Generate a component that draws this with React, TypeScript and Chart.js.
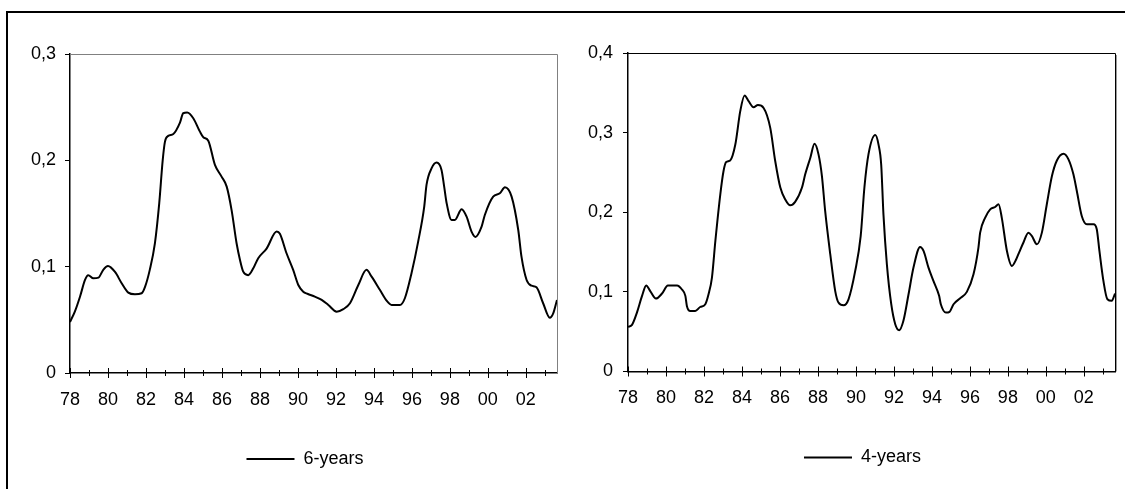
import React, { useEffect, useRef } from 'react';
import { Chart, registerables } from 'chart.js';

Chart.register(...registerables);

// ---- Data (year since 1900, value) ----
const sixYearsX = [
  78.0, 78.26, 78.53, 78.79, 78.96, 79.23, 79.5, 79.75, 80.0, 80.37, 80.72, 81.07, 81.42, 81.77, 81.95,
  82.2, 82.47, 82.7, 82.88, 83.0, 83.17, 83.44, 83.79, 83.96, 84.17, 84.49, 84.84, 85.02, 85.28, 85.63,
  85.98, 86.25, 86.51, 86.77, 86.95, 87.12, 87.38, 87.65, 87.91, 88.35, 88.88, 89.05, 89.4, 89.75, 90.02,
  90.28, 90.5, 90.89, 91.25, 91.6, 92.04, 92.39, 92.74, 93.18, 93.61, 93.88, 94.32, 94.67, 94.93, 95.37,
  95.63, 95.98, 96.33, 96.65, 96.77, 97.04, 97.3, 97.56, 97.7, 97.83, 98.09, 98.26, 98.62, 98.88, 99.14,
  99.35, 99.67, 99.84, 100.28, 100.63, 100.9, 101.25, 101.6, 101.77, 102.04, 102.3, 102.56, 102.91, 103.26,
  103.44, 103.64,
];
const sixYearsY = [
  0.048, 0.058, 0.072, 0.0875, 0.092, 0.089, 0.0897, 0.097, 0.1006, 0.095, 0.0844, 0.0756, 0.074, 0.075, 0.081,
  0.097, 0.122, 0.16, 0.2, 0.2176, 0.223, 0.2248, 0.2355, 0.2443, 0.2449, 0.2396, 0.227, 0.2217, 0.2185, 0.1957,
  0.1847, 0.1753, 0.153, 0.122, 0.1063, 0.0953, 0.092, 0.0985, 0.108, 0.117, 0.133, 0.131, 0.1126, 0.097, 0.0828,
  0.0765, 0.0745, 0.0718, 0.0687, 0.064, 0.0577, 0.06, 0.0656, 0.0828, 0.097, 0.0906, 0.078, 0.068, 0.064, 0.064,
  0.0703, 0.0938, 0.1235, 0.1565, 0.1769, 0.1926, 0.1979, 0.191, 0.1753, 0.1597, 0.144, 0.144, 0.154, 0.147, 0.133,
  0.128, 0.1376, 0.1486, 0.1659, 0.169, 0.1747, 0.1659, 0.1345, 0.1094, 0.0875, 0.0821, 0.0806, 0.0656, 0.052,
  0.0561, 0.0687,
];

const fourYearsX = [
  78.0, 78.21, 78.47, 78.74, 78.96, 79.17, 79.47, 79.79, 80.1, 80.58, 80.84, 81.02, 81.1, 81.28, 81.54,
  81.8, 82.07, 82.24, 82.42, 82.6, 82.86, 83.03, 83.17, 83.38, 83.65, 83.91, 84.14, 84.35, 84.61, 84.84,
  85.14, 85.49, 85.75, 86.02, 86.28, 86.54, 86.8, 87.16, 87.33, 87.6, 87.82, 88.03, 88.21, 88.38, 88.65,
  88.91, 89.08, 89.35, 89.61, 89.96, 90.25, 90.45, 90.66, 91.02, 91.19, 91.33, 91.45, 91.63, 91.86, 92.07,
  92.28, 92.5, 92.77, 93.03, 93.38, 93.56, 93.82, 94.08, 94.38, 94.47, 94.74, 94.93, 95.14, 95.49, 95.84,
  96.19, 96.45, 96.54, 96.8, 97.07, 97.33, 97.51, 97.68, 97.95, 98.21, 98.44, 98.61, 98.82, 99.08, 99.26,
  99.53, 99.79, 100.05, 100.32, 100.58, 100.93, 101.19, 101.45, 101.63, 101.89, 102.16, 102.51, 102.68, 102.82,
  103.03, 103.24, 103.47, 103.64,
];
const fourYearsY = [
  0.056, 0.0586, 0.074, 0.095, 0.108, 0.101, 0.0916, 0.0979, 0.108, 0.108, 0.103, 0.095, 0.0824, 0.076, 0.076,
  0.081, 0.0845, 0.097, 0.118, 0.164, 0.2225, 0.2518, 0.263, 0.265, 0.285, 0.327, 0.3467, 0.3396, 0.332, 0.3346,
  0.331, 0.306, 0.2644, 0.231, 0.216, 0.2087, 0.213, 0.231, 0.2476, 0.2685, 0.286, 0.2727, 0.2455, 0.2016, 0.147,
  0.101, 0.0866, 0.0832, 0.0907, 0.126, 0.17, 0.232, 0.2727, 0.297, 0.285, 0.26, 0.197, 0.1346, 0.0845, 0.0594,
  0.0518, 0.0636, 0.097, 0.1305, 0.1565, 0.1514, 0.1305, 0.1138, 0.095, 0.0845, 0.074, 0.0749, 0.0845, 0.092, 0.1,
  0.122, 0.1556, 0.1744, 0.193, 0.2036, 0.2066, 0.21, 0.193, 0.1514, 0.1326, 0.141, 0.1506, 0.162, 0.1744, 0.1703,
  0.1597, 0.1744, 0.21, 0.2455, 0.265, 0.2735, 0.2664, 0.2476, 0.2267, 0.1954, 0.1849, 0.1849, 0.1786, 0.1514,
  0.1138, 0.0907, 0.0887, 0.0979,
];

// ---- Axis ticks / labels ----
const xMajorTicks = [78, 80, 82, 84, 86, 88, 90, 92, 94, 96, 98, 100, 102];
const xMajorLabels = ['78', '80', '82', '84', '86', '88', '90', '92', '94', '96', '98', '00', '02'];
const xMinorTicks = [79, 81, 83, 85, 87, 89, 91, 93, 95, 97, 99, 101, 103];
const xRange = [78, 103.64];

const yTicksLeft = [0, 0.1, 0.2, 0.3];
const yLabelsLeft = ['0', '0,1', '0,2', '0,3'];
const yTicksRight = [0, 0.1, 0.2, 0.3, 0.4];
const yLabelsRight = ['0', '0,1', '0,2', '0,3', '0,4'];

const seriesLabels = ['6-years', '4-years'];

const FONT_FAMILY = '"Liberation Sans", Arial, Helvetica, sans-serif';
const FONT_SIZE = 18;

type PanelProps = {
  left: number;
  top: number;
  width: number;
  height: number;
  xs: number[];
  ys: number[];
  label: string;
  yTicks: number[];
  yLabels: string[];
  yWidth: number;
  yPad: number;
  pad: { top: number; right: number; bottom: number };
  legendDx: number;
  frameColor: string;
  shadow: boolean;
};

function Panel(p: PanelProps) {
  const ref = useRef<HTMLCanvasElement | null>(null);

  useEffect(() => {
    const canvas = ref.current;
    if (!canvas) return;

    const tickMarks = {
      id: 'xTickMarks',
      afterDraw(chart: any) {
        const xs = chart.scales.x;
        const ctx = chart.ctx;
        const y0 = chart.chartArea.bottom;
        ctx.save();
        ctx.strokeStyle = '#000';
        ctx.lineWidth = 1;
        xs.ticks.forEach((t: any) => {
          const px = Math.round(xs.getPixelForValue(t.value)) + 0.5;
          const major = xMajorTicks.indexOf(t.value) >= 0;
          ctx.beginPath();
          ctx.moveTo(px, y0 - (major ? 5 : 3));
          ctx.lineTo(px, y0 + (major ? 5 : 3));
          ctx.stroke();
        });
        ctx.restore();
      },
    };

    const frame = {
      id: 'plotFrame',
      afterDatasetsDraw(chart: any) {
        const { left, top, right, bottom } = chart.chartArea;
        const ctx = chart.ctx;
        ctx.save();
        ctx.strokeStyle = p.frameColor;
        ctx.lineWidth = 1;
        ctx.beginPath();
        ctx.moveTo(left, Math.round(top) + 0.5);
        ctx.lineTo(Math.round(right) + 0.5, Math.round(top) + 0.5);
        ctx.lineTo(Math.round(right) + 0.5, bottom);
        ctx.stroke();
        if (p.shadow) {
          ctx.strokeStyle = '#9a9a9a';
          ctx.beginPath();
          ctx.moveTo(Math.round(right) + 1.5, Math.round(top) + 2);
          ctx.lineTo(Math.round(right) + 1.5, bottom);
          ctx.stroke();
        }
        ctx.restore();
      },
    };

    const legendShift = {
      id: 'legendShift',
      afterLayout(chart: any) {
        if (chart.legend) {
          chart.legend.left += p.legendDx;
          chart.legend.right += p.legendDx;
        }
      },
    };

    const font = { family: FONT_FAMILY, size: FONT_SIZE };

    const chart = new Chart(canvas, {
      type: 'line',
      data: {
        datasets: [
          {
            label: p.label,
            data: p.xs.map((x, i) => ({ x, y: p.ys[i] })),
            borderColor: '#000',
            backgroundColor: '#000',
            borderWidth: 2,
            pointRadius: 0,
            cubicInterpolationMode: 'monotone',
            fill: false,
          },
        ],
      },
      options: {
        responsive: false,
        animation: false,
        events: [],
        layout: { padding: { left: 0, top: p.pad.top, right: p.pad.right, bottom: p.pad.bottom } },
        plugins: {
          legend: {
            display: true,
            position: 'bottom',
            labels: {
              usePointStyle: true,
              pointStyle: 'line',
              pointStyleWidth: 48,
              color: '#000',
              font,
              padding: 10,
            },
          },
          tooltip: { enabled: false },
          title: { display: false },
        },
        scales: {
          x: {
            type: 'linear',
            bounds: 'data',
            min: xRange[0],
            max: xRange[1],
            afterFit: (s: any) => {
              s.height = 67;
            },
            afterBuildTicks: (s: any) => {
              s.ticks = [...xMajorTicks, ...xMinorTicks].sort((a, b) => a - b).map((v) => ({ value: v }));
            },
            grid: { display: false, drawTicks: false },
            border: { display: true, color: '#000', width: 1.5 },
            ticks: {
              autoSkip: false,
              maxRotation: 0,
              minRotation: 0,
              padding: 16,
              color: '#000',
              font,
              callback: (v: any) => {
                const i = xMajorTicks.indexOf(Number(v));
                return i >= 0 ? xMajorLabels[i] : '';
              },
            },
          },
          y: {
            type: 'linear',
            bounds: 'data',
            min: p.yTicks[0],
            max: p.yTicks[p.yTicks.length - 1],
            afterFit: (s: any) => {
              s.width = p.yWidth;
            },
            afterBuildTicks: (s: any) => {
              s.ticks = p.yTicks.map((v) => ({ value: v }));
            },
            grid: {
              display: true,
              drawOnChartArea: false,
              drawTicks: true,
              tickLength: 5,
              color: '#000',
              tickColor: '#000',
              tickWidth: 1,
            },
            border: { display: true, color: '#000', width: 1.5 },
            ticks: {
              padding: p.yPad,
              color: '#000',
              font,
              callback: (_v: any, i: number) => p.yLabels[i],
            },
          },
        },
      },
      plugins: [tickMarks, frame, legendShift],
    } as any);

    return () => chart.destroy();
  }, []);

  return (
    <div style={{ position: 'absolute', left: p.left, top: p.top, width: p.width, height: p.height }}>
      <canvas ref={ref} width={p.width} height={p.height} style={{ display: 'block' }} />
    </div>
  );
}

export default function App() {
  return (
    <div
      style={{
        position: 'fixed',
        left: 0,
        top: 0,
        width: 1125,
        height: 489,
        overflow: 'hidden',
        background: '#fff',
      }}
    >
      <div
        style={{
          position: 'absolute',
          left: 6,
          top: 11,
          width: 1140,
          height: 500,
          border: '2px solid #000',
          boxSizing: 'border-box',
        }}
      />
      <Panel
        left={10}
        top={14}
        width={570}
        height={475}
        xs={sixYearsX}
        ys={sixYearsY}
        label={seriesLabels[0]}
        yTicks={yTicksLeft}
        yLabels={yLabelsLeft}
        yWidth={60}
        yPad={9}
        pad={{ top: 40, right: 23, bottom: 11 }}
        legendDx={21.5}
        frameColor="#808080"
        shadow={false}
      />
      <Panel
        left={580}
        top={14}
        width={545}
        height={475}
        xs={fourYearsX}
        ys={fourYearsY}
        label={seriesLabels[1]}
        yTicks={yTicksRight}
        yLabels={yLabelsRight}
        yWidth={48}
        yPad={10}
        pad={{ top: 39, right: 10, bottom: 12.5 }}
        legendDx={15}
        frameColor="#000"
        shadow={true}
      />
    </div>
  );
}
